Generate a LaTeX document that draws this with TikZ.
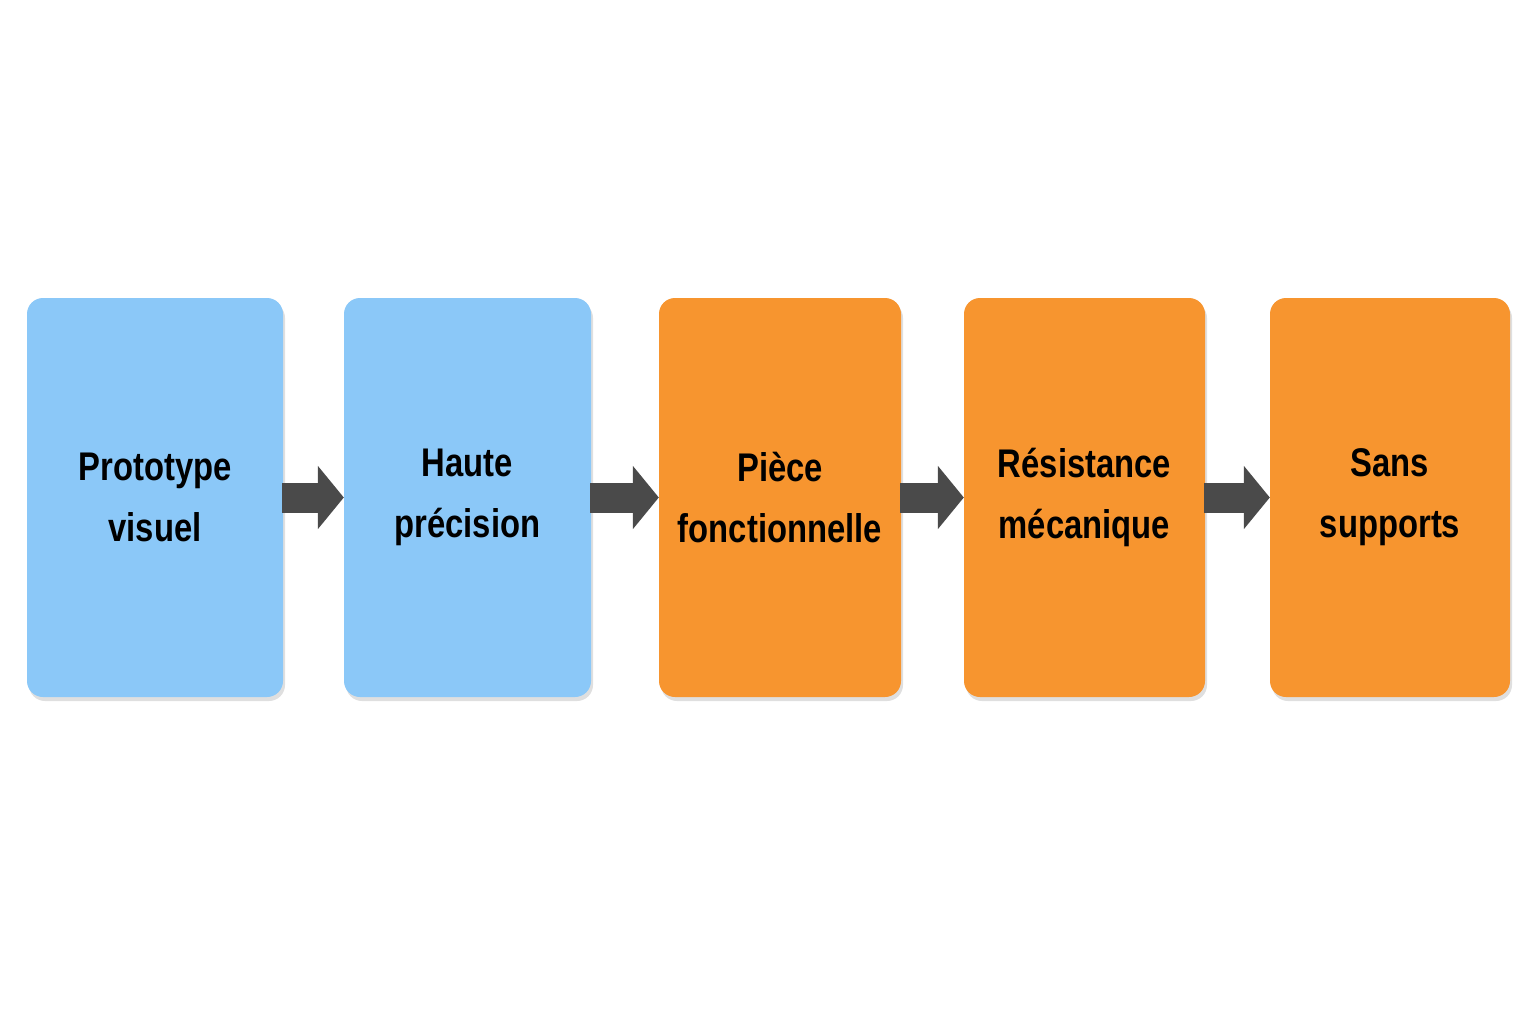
\documentclass[tikz,border=0pt]{standalone}
\usepackage{fontspec}
\setmainfont{Liberation Sans}[FakeStretch=0.82]
\usetikzlibrary{shadows,arrows.meta}
\definecolor{bl}{HTML}{8BC8F8}
\definecolor{orb}{HTML}{F7952F}
\definecolor{ar}{HTML}{4A4A4A}
\begin{document}
\begin{tikzpicture}[x=1pt,y=-1pt,
  box/.style={rounded corners=16pt,inner sep=0pt,align=center,
    font=\fontsize{40}{61}\selectfont\bfseries,
    drop shadow={shadow xshift=2pt,shadow yshift=-4pt,opacity=0.25,fill=gray}},
  arr/.style={draw=ar,line width=30pt,-{Triangle[length=26pt,width=62pt]},shorten <=-1pt}]
\useasboundingbox[fill=white] (0,0) rectangle (1536,1024);
\newcommand{\bx}[5]{\node[box,fill=#5,minimum width={#2-#1},minimum height=399pt] (#3) at ({(#1+#2)/2},497.5) {#4};}
\bx{27}{283}{a}{Prototype\\visuel}{bl}
\bx{344}{591}{b}{Haute\\précision}{bl}
\bx{659}{901}{c}{Pièce\\fonctionnelle}{orb}
\bx{964}{1205}{d}{Résistance\\mécanique}{orb}
\bx{1270}{1510}{e}{Sans\\supports}{orb}
\draw[arr] (a.east) -- (b.west);
\draw[arr] (b.east) -- (c.west);
\draw[arr] (c.east) -- (d.west);
\draw[arr] (d.east) -- (e.west);
\end{tikzpicture}
\end{document}
